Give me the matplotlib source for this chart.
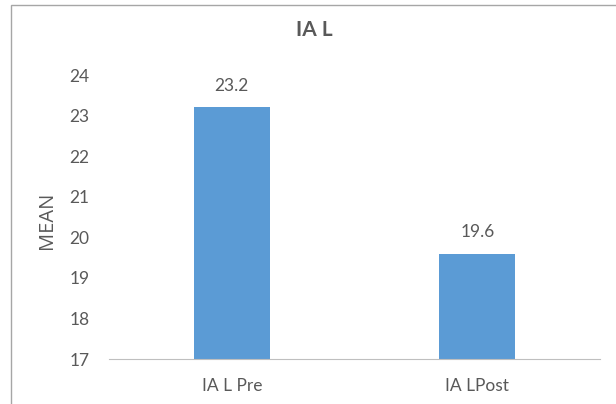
import matplotlib.pyplot as plt
from matplotlib.patches import Rectangle

# data
categories = ['IA L Pre', 'IA LPost']
means = [23.2, 19.6]
yticks = [17, 18, 19, 20, 21, 22, 23, 24]

plt.rcParams['font.family'] = ['Lato', 'DejaVu Sans']
grey = '#595959'

fig = plt.figure(figsize=(6.16, 4.04), dpi=100)
ax = fig.add_axes([109/616, 45/404, 491/616, 284/404])

x = range(len(categories))
bars = ax.bar(x, means, width=0.31, color='#5B9BD5', zorder=2)
for b, v in zip(bars, means):
    ax.annotate(f'{v}', (b.get_x() + b.get_width()/2, v), xytext=(0, 10),
                textcoords='offset points', ha='center', va='bottom',
                fontsize=12.5, color=grey)

ax.set_xlim(-0.5, 1.5)
ax.set_ylim(17, 24)
ax.set_yticks(yticks)
ax.set_xticks(list(x))
ax.set_xticklabels(categories)
ax.tick_params(axis='both', length=0, labelsize=12.5, colors=grey)
ax.tick_params(axis='x', pad=14)
ax.tick_params(axis='y', pad=14)
for s in ['top', 'right', 'left']:
    ax.spines[s].set_visible(False)
ax.spines['bottom'].set_color('#BFBFBF')
ax.set_ylabel('MEAN', fontsize=14.5, color=grey, family=['Open Sans', 'DejaVu Sans'])
ax.yaxis.set_label_coords(57/616, 1 - 220/404, transform=fig.transFigure)
fig.text(314/616, 1 - 30/404, 'IA L', ha='center', va='center',
         fontsize=15, fontweight='bold', color=grey)

# chart border
fig.patches.append(Rectangle((11/616, -0.1), 1.2, (404 - 5)/404 + 0.1, transform=fig.transFigure,
                             fill=False, edgecolor='#A6A6A6', linewidth=1.0))

plt.savefig('out.png', dpi=100)
